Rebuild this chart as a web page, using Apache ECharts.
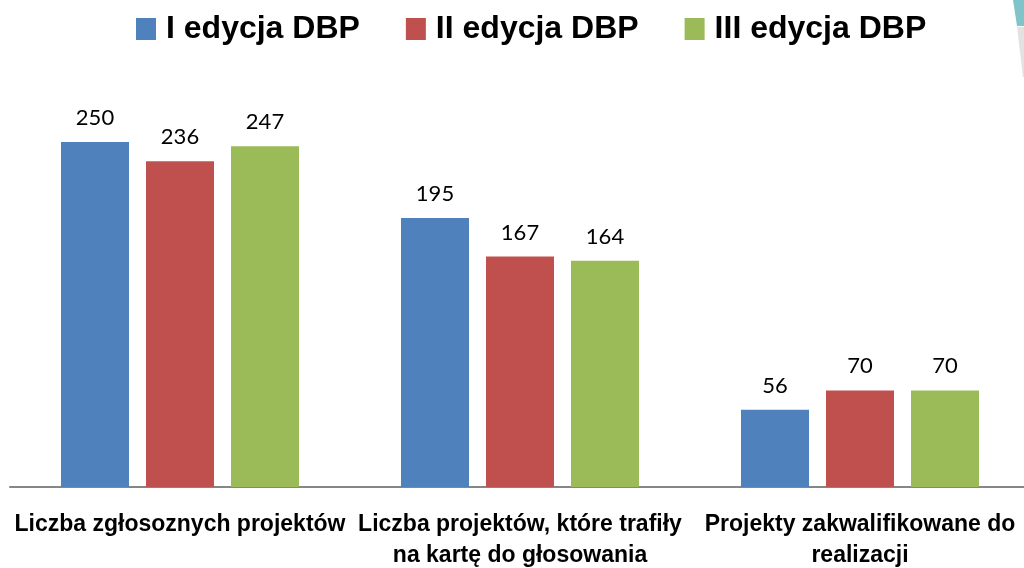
<!DOCTYPE html>
<html><head><meta charset="utf-8">
<script src="https://cdn.jsdelivr.net/npm/echarts@6/dist/echarts.min.js"></script>
<style>html,body{margin:0;padding:0;background:#fff}#c{width:1024px;height:568px}</style>
</head><body><div id="c"></div>
<script>
const categories = ["Liczba zgłosoznych projektów", "Liczba projektów, które trafiły\nna kartę do głosowania", "Projekty zakwalifikowane do\nrealizacji"];
const seriesNames = ["I edycja DBP", "II edycja DBP", "III edycja DBP"];
const edycja1 = [250, 195, 56];
const edycja2 = [236, 167, 70];
const edycja3 = [247, 164, 70];
const colors = ["#4f81bd", "#c0504d", "#9bbb59"];

const chart = echarts.init(document.getElementById('c'));
const font = "Lato, 'Open Sans', sans-serif";
const sans = "'Liberation Sans', Arial, sans-serif";
const mk = (name, data, color) => ({
  name, type: 'bar', data, barWidth: 68, barGap: '25%',
  itemStyle: { color },
  label: { show: true, position: 'top', distance: 13, color: '#000', fontSize: 22, fontFamily: font }
});
chart.setOption({
  animation: false,
  legend: {
    top: 8, left: 131, itemWidth: 20, itemHeight: 22, itemGap: 46,
    icon: 'rect',
    textStyle: { fontSize: 32, fontWeight: 'bold', color: '#000', fontFamily: sans, padding: [0, 0, 0, 5] },
    data: seriesNames
  },
  grid: { left: 10, width: 1020, top: 73, bottom: 81, outerBoundsMode: 'none' },
  xAxis: {
    type: 'category', data: categories,
    axisLine: { lineStyle: { color: '#868686', width: 2 } },
    axisTick: { show: false },
    axisLabel: { interval: 0, margin: 22, fontSize: 23, fontWeight: 'bold', color: '#000', fontFamily: sans, lineHeight: 31 }
  },
  yAxis: { type: 'value', min: 0, max: 300, show: false, splitLine: { show: false } },
  series: [mk(seriesNames[0], edycja1, colors[0]), mk(seriesNames[1], edycja2, colors[1]), mk(seriesNames[2], edycja3, colors[2])],
  graphic: [
    { type: 'polygon', shape: { points: [[1013,0],[1024,0],[1024,26],[1017,26]] }, style: { fill: '#7fc4c8' } },
    { type: 'polygon', shape: { points: [[1017,27],[1024,27],[1024,77],[1023,77]] }, style: { fill: '#e2e2e2' } }
  ]
});
</script></body></html>
